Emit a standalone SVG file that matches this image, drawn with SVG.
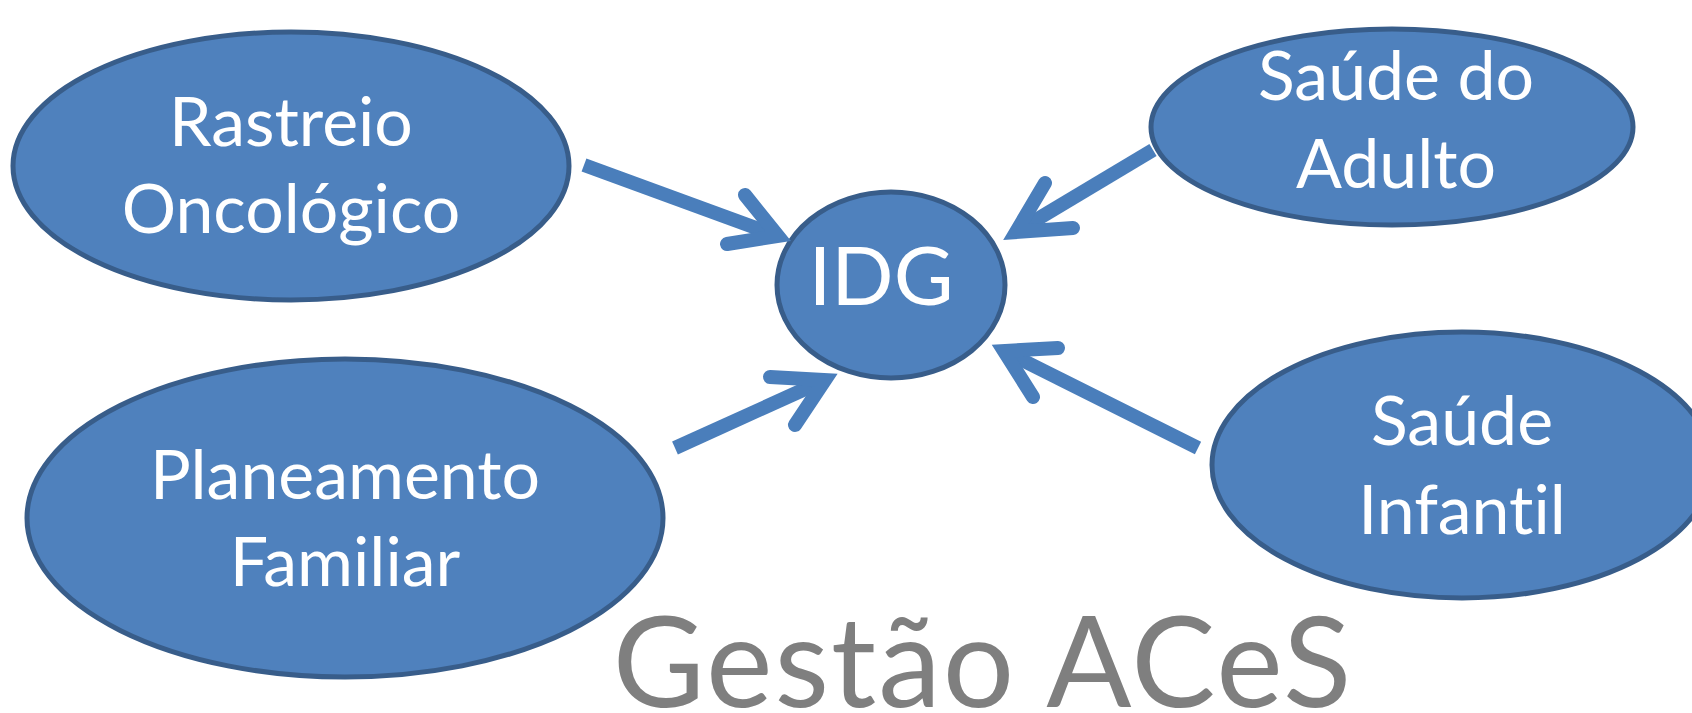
<svg xmlns="http://www.w3.org/2000/svg" width="1692" height="713" viewBox="0 0 1692 713">
<style>
.node{fill:#4f81bd;stroke:#385d8a;stroke-width:5}
.lbl{font-family:Lato,"Open Sans","Liberation Sans",sans-serif;fill:#ffffff;font-size:68px;text-anchor:middle;font-variant-ligatures:none}
.shaft{fill:none;stroke:#4a7ebb;stroke-width:14;stroke-linecap:butt}
.head{fill:none;stroke:#4a7ebb;stroke-width:14;stroke-linecap:round;stroke-linejoin:miter;stroke-miterlimit:10}
.title{font-family:Lato,"Open Sans","Liberation Sans",sans-serif;fill:#7f7f7f;font-size:126px;letter-spacing:2px;text-anchor:middle;font-variant-ligatures:none}
</style>
<rect width="1692" height="713" fill="#ffffff"/>
<g id="rastreio">
<ellipse class="node" cx="291" cy="166" rx="278" ry="134"/>
<text class="lbl" x="291" y="146">Rastreio</text>
<text class="lbl" x="291" y="233">Oncológico</text>
</g>
<g id="adulto">
<ellipse class="node" cx="1392" cy="127" rx="241" ry="98"/>
<text class="lbl" x="1396" y="100">Saúde do</text>
<text class="lbl" x="1396" y="188">Adulto</text>
</g>
<g id="planeamento">
<ellipse class="node" cx="345" cy="518" rx="318" ry="159"/>
<text class="lbl" x="345" y="499">Planeamento</text>
<text class="lbl" x="345" y="586">Familiar</text>
</g>
<g id="infantil">
<ellipse class="node" cx="1462" cy="465" rx="250" ry="133"/>
<text class="lbl" x="1462" y="445">Saúde</text>
<text class="lbl" x="1462" y="534">Infantil</text>
</g>
<g id="idg">
<ellipse class="node" cx="891" cy="285" rx="114" ry="93"/>
<text class="lbl" x="881" y="305" style="font-size:82px">IDG</text>
</g>
<g id="connectors">
<path class="shaft" d="M584 165 L778 236"/>
<path class="head" d="M745 195 L778 236 L727 244"/>
<path class="shaft" d="M1153 150 L1016 232"/>
<path class="head" d="M1045 183 L1016 232 L1073 228"/>
<path class="shaft" d="M675 448 L825 380"/>
<path class="head" d="M770 377 L825 380 L795 425"/>
<path class="shaft" d="M1198 448 L1004 351"/>
<path class="head" d="M1058 348 L1004 351 L1033 397"/>
</g>
<g id="titulo">
<text class="title" x="983" y="707">Gestão ACeS</text>
</g>
</svg>
